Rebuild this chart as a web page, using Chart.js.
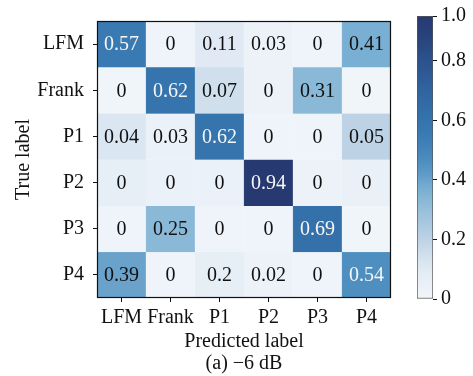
<!DOCTYPE html>
<html>
<head>
<meta charset="utf-8">
<script src="https://cdn.jsdelivr.net/npm/chart.js@4.4.1/dist/chart.umd.min.js"></script>
<style>
  html, body { margin: 0; padding: 0; background: #ffffff; }
  #wrap { position: relative; width: 473px; height: 376px; overflow: hidden; }
  #main { position: absolute; left: 0; top: 0; }
  #cbar { position: absolute; left: 400px; top: 0; }
  #probe { position: absolute; left: -1000px; top: 0; font: 20px 'Liberation Serif', serif; }
</style>
</head>
<body>
<div id="probe">LFM Frank 0.57</div>
<div id="wrap">
  <canvas id="main" width="473" height="376"></canvas>
  <canvas id="cbar" width="73" height="376"></canvas>
</div>
<script>
// ---- data ----
const predLabels = ['LFM', 'Frank', 'P1', 'P2', 'P3', 'P4'];
const trueLabels = ['LFM', 'Frank', 'P1', 'P2', 'P3', 'P4'];
const rowLFM   = [0.57, 0,    0.11, 0.03, 0,    0.41];
const rowFrank = [0,    0.62, 0.07, 0,    0.31, 0];
const rowP1    = [0.04, 0.03, 0.62, 0,    0,    0.05];
const rowP2    = [0,    0,    0,    0.94, 0,    0];
const rowP3    = [0,    0.25, 0,    0,    0.69, 0];
const rowP4    = [0.39, 0,    0.2,  0.02, 0,    0.54];
const values = [rowLFM, rowFrank, rowP1, rowP2, rowP3, rowP4];
// shade each cell shows in the picture (on the colour bar's scale)
const shadeLFM   = [0.55, 0.02, 0.10, 0.03, 0.02, 0.37];
const shadeFrank = [0.01, 0.60, 0.15, 0.03, 0.33, 0.01];
const shadeP1    = [0.12, 0.04, 0.60, 0.02, 0.02, 0.20];
const shadeP2    = [0.07, 0.04, 0.04, 0.95, 0.03, 0.05];
const shadeP3    = [0.02, 0.33, 0.02, 0.02, 0.62, 0.01];
const shadeP4    = [0.40, 0.02, 0.07, 0.03, 0.02, 0.45];
const cellShade = [shadeLFM, shadeFrank, shadeP1, shadeP2, shadeP3, shadeP4];
const cbMax = 0.95;
const cbTickValues = [0, 0.2, 0.4, 0.6, 0.8, 0.95];
const cbTickLabels = ['0', '0.2', '0.4', '0.6', '0.8', '1.0'];
const xTitleLines = ['Predicted label', '(a) \u22126 dB'];

// ---- colour map (Blues-like, as printed) ----
const cmapStops = [
  [0.00, '#f2f6fb'], [0.10, '#e1eaf4'], [0.15, '#d0dfec'], [0.20, '#bdd2e4'],
  [0.30, '#97bfda'], [0.37, '#79afd2'], [0.40, '#6aa2cb'], [0.45, '#4f8fc0'],
  [0.55, '#3a7ab3'], [0.60, '#3574ad'], [0.70, '#2f64a0'], [0.80, '#2b528c'],
  [0.90, '#283f78'], [1.00, '#25336a']
];
function hexToRgb(h) { return [parseInt(h.slice(1,3),16), parseInt(h.slice(3,5),16), parseInt(h.slice(5,7),16)]; }
function cmap(t) {
  t = Math.max(0, Math.min(1, t));
  for (let i = 1; i < cmapStops.length; i++) {
    if (t <= cmapStops[i][0]) {
      const [t0, c0] = cmapStops[i-1], [t1, c1] = cmapStops[i];
      const f = (t - t0) / (t1 - t0);
      const a = hexToRgb(c0), b = hexToRgb(c1);
      const r = a.map((v, k) => Math.round(v + (b[k] - v) * f));
      return 'rgb(' + r.join(',') + ')';
    }
  }
  return cmapStops[cmapStops.length-1][1];
}

const FONT = "'Liberation Serif', serif";
const TXT = '#111111';
Chart.defaults.font.family = FONT;
Chart.defaults.font.size = 20;
Chart.defaults.color = TXT;

function build() {
  const datasets = trueLabels.map((lab, r) => ({
    label: lab,
    data: predLabels.map(() => [r, r + 1]),
    backgroundColor: cellShade[r].map(s => cmap(s)),
    borderColor: cellShade[r].map(s => cmap(s)),
    borderWidth: 0.5,
    borderSkipped: false,
    grouped: false,
    barPercentage: 1,
    categoryPercentage: 1
  }));

  const cellText = {
    id: 'cellText',
    afterDatasetsDraw(chart) {
      const ctx = chart.ctx;
      ctx.save();
      ctx.font = "20px 'Liberation Serif', serif";
      ctx.textAlign = 'center';
      ctx.textBaseline = 'middle';
      chart.data.datasets.forEach((ds, r) => {
        const meta = chart.getDatasetMeta(r);
        meta.data.forEach((el, c) => {
          const v = values[r][c];
          ctx.fillStyle = v > 0.47 ? '#f6f6f6' : TXT;
          ctx.fillText(String(v), el.x, (el.y + el.base) / 2 + 1);
        });
      });
      ctx.restore();
    },
    afterDraw(chart) {
      const a = chart.chartArea, ctx = chart.ctx;
      ctx.save();
      ctx.strokeStyle = '#111';
      ctx.lineWidth = 1.2;
      ctx.strokeRect(a.left + 0.5, a.top + 0.5, a.right - a.left - 1, a.bottom - a.top - 1);
      ctx.restore();
    }
  };

  new Chart(document.getElementById('main'), {
    type: 'bar',
    data: { labels: predLabels, datasets },
    options: {
      responsive: false,
      animation: false,
      events: [],
      layout: { padding: { left: 0, top: 17, right: 82, bottom: 1 } },
      plugins: {
        legend: { display: false },
        tooltip: { enabled: false },
        title: { display: false }
      },
      scales: {
        x: {
          type: 'category',
          offset: true,
          grid: { display: true, drawOnChartArea: false, drawTicks: true, tickLength: 4, color: '#111', offset: false },
          border: { display: false },
          ticks: { color: TXT, font: { family: FONT, size: 20 }, padding: 4, maxRotation: 0, autoSkip: false },
          title: { display: true, text: xTitleLines, color: TXT, font: { family: FONT, size: 20, lineHeight: 1.1 }, padding: { top: 0, bottom: 0 } },
          afterFit(scale) { scale.height = 77; }
        },
        y: {
          type: 'linear',
          min: 0, max: 6, reverse: true,
          afterBuildTicks(scale) { scale.ticks = trueLabels.map((_, i) => ({ value: i + 0.5 })); },
          grid: { display: true, drawOnChartArea: false, drawTicks: true, tickLength: 4, color: '#111' },
          border: { display: false },
          ticks: {
            color: TXT, font: { family: FONT, size: 20 }, padding: 9, autoSkip: false,
            callback(v, i) { return trueLabels[i]; }
          },
          title: { display: true, text: 'True label', color: TXT, font: { family: FONT, size: 20, lineHeight: 1.0 }, padding: { top: 14, bottom: 0 } },
          afterFit(scale) { scale.width = 97; }
        }
      }
    },
    plugins: [cellText]
  });

  // ---- colour bar ----
  new Chart(document.getElementById('cbar'), {
    type: 'bar',
    data: {
      labels: [''],
      datasets: [{
        data: [[0, cbMax]],
        backgroundColor(ctx) {
          const chart = ctx.chart, a = chart.chartArea;
          if (!a) return '#ccc';
          const ys = chart.scales.y;
          const g = chart.ctx.createLinearGradient(0, ys.getPixelForValue(0), 0, ys.getPixelForValue(cbMax));
          for (let i = 0; i <= 20; i++) g.addColorStop(i / 20, cmap(cbMax * i / 20));
          return g;
        },
        borderColor: '#555',
        borderWidth: 1,
        borderSkipped: false,
        barPercentage: 1,
        categoryPercentage: 1
      }]
    },
    options: {
      responsive: false,
      animation: false,
      events: [],
      layout: { padding: { left: 17, top: 16, right: 0, bottom: 77 } },
      plugins: { legend: { display: false }, tooltip: { enabled: false } },
      scales: {
        x: { display: false },
        y: {
          position: 'right',
          min: 0, max: cbMax,
          afterBuildTicks(scale) { scale.ticks = cbTickValues.map(v => ({ value: v })); },
          grid: { display: true, drawOnChartArea: false, drawTicks: true, tickLength: 4, color: '#111' },
          border: { display: false },
          ticks: {
            color: TXT, font: { family: FONT, size: 20 }, padding: 4, autoSkip: false,
            callback(v, i) { return cbTickLabels[i]; }
          },
          afterFit(scale) { scale.width = 40; }
        }
      }
    }
  });
}

if (document.fonts && document.fonts.load) {
  document.fonts.load("20px 'Liberation Serif'").then(build, build);
} else {
  build();
}
</script>
</body>
</html>
